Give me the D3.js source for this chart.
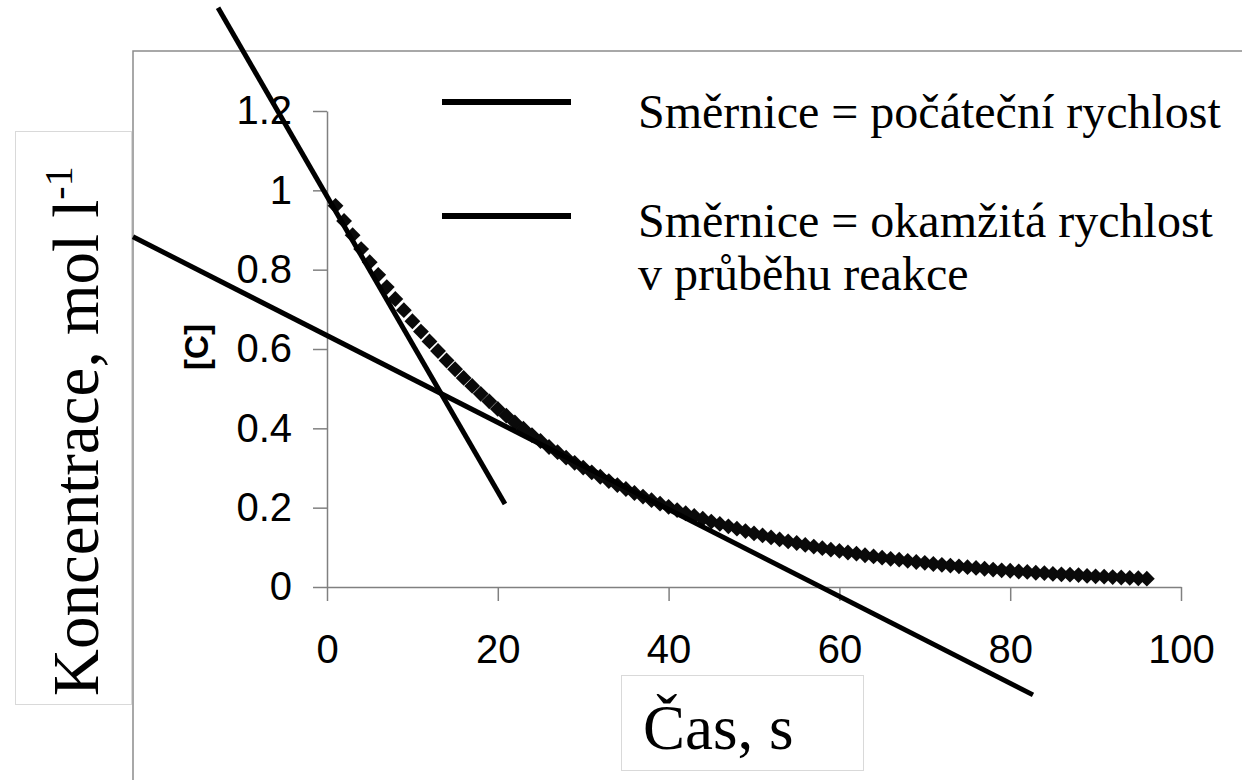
<!DOCTYPE html>
<html>
<head>
<meta charset="utf-8">
<script src="https://cdn.jsdelivr.net/npm/d3@7"></script>
<style>
  html, body { margin: 0; padding: 0; background: #fff; }
  svg { display: block; }
  .tick text { font-family: 'Liberation Sans', Arial, sans-serif; font-size: 40px; fill: #000; }
</style>
</head>
<body>
<svg id="SvgContainer"></svg>
<script>
// time, s
var times = [1, 2, 3, 4, 5, 6, 7, 8, 9, 10, 11, 12, 13, 14, 15, 16, 17, 18, 19, 20,
    21, 22, 23, 24, 25, 26, 27, 28, 29, 30, 31, 32, 33, 34, 35, 36, 37, 38, 39, 40,
    41, 42, 43, 44, 45, 46, 47, 48, 49, 50, 51, 52, 53, 54, 55, 56, 57, 58, 59, 60,
    61, 62, 63, 64, 65, 66, 67, 68, 69, 70, 71, 72, 73, 74, 75, 76, 77, 78, 79, 80,
    81, 82, 83, 84, 85, 86, 87, 88, 89, 90, 91, 92, 93, 94, 95, 96];

// [C], mol/l
var concentrations = [0.961, 0.923, 0.887, 0.852, 0.819, 0.787, 0.756, 0.726, 0.698, 0.670,
    0.644, 0.619, 0.595, 0.571, 0.549, 0.527, 0.507, 0.487, 0.468, 0.449,
    0.432, 0.415, 0.399, 0.383, 0.368, 0.353, 0.340, 0.326, 0.313, 0.301,
    0.289, 0.278, 0.267, 0.257, 0.247, 0.237, 0.228, 0.219, 0.210, 0.202,
    0.194, 0.186, 0.179, 0.172, 0.165, 0.159, 0.153, 0.147, 0.141, 0.135,
    0.130, 0.125, 0.120, 0.115, 0.111, 0.106, 0.102, 0.098, 0.094, 0.091,
    0.087, 0.084, 0.080, 0.077, 0.074, 0.071, 0.069, 0.066, 0.063, 0.061,
    0.058, 0.056, 0.054, 0.052, 0.050, 0.048, 0.046, 0.044, 0.042, 0.041,
    0.039, 0.038, 0.036, 0.035, 0.033, 0.032, 0.031, 0.030, 0.028, 0.027,
    0.026, 0.025, 0.024, 0.023, 0.022, 0.021];

// tangent lines, endpoints in data units [t, c]
var initialTangent = [[-12.76, 1.460], [20.84, 0.209]];
var laterTangent = [[-22.72, 0.883], [82.67, -0.272]];

var xTicks = [0, 20, 40, 60, 80, 100];
var yTicks = [0, 0.2, 0.4, 0.6, 0.8, 1, 1.2];
var yTickLabels = ["0", "0.2", "0.4", "0.6", "0.8", "1", "1.2"];

var legendLabels = [
    ["Směrnice = počáteční rychlost"],
    ["Směrnice = okamžitá rychlost", "v průběhu reakce"]
];

var serifFont = "'Liberation Serif', 'Times New Roman', Times, serif";

function DrawChart() {
    var width = 1242;
    var height = 780;
    var axisColor = "#808080";
    var lineThickness = 5;

    var svgContainer = d3.select("#SvgContainer")
        .attr("width", width)
        .attr("height", height);

    svgContainer.append("rect")
        .attr("width", width)
        .attr("height", height)
        .attr("fill", "#fff");

    var x = d3.scaleLinear().domain([0, 100]).range([327, 1181]);
    var y = d3.scaleLinear().domain([0, 1.2]).range([587, 111]);

    // outer chart frame (only top and left visible)
    svgContainer.append("path")
        .attr("d", "M133,780 V51 H1242")
        .attr("fill", "none")
        .attr("stroke", "#8c8c8c")
        .attr("stroke-width", 1.5);

    // y title box
    svgContainer.append("rect")
        .attr("x", 15.5).attr("y", 131.5)
        .attr("width", 116).attr("height", 573)
        .attr("fill", "#fff")
        .attr("stroke", "#d9d9d9")
        .attr("stroke-width", 1);

    var yTitle = svgContainer.append("text")
        .attr("transform", "translate(98,696) rotate(-90)")
        .style("font-family", serifFont)
        .style("font-size", "65px")
        .attr("fill", "#000");
    yTitle.append("tspan").text("Koncentrace, mol l");
    yTitle.append("tspan")
        .style("font-size", "40px")
        .attr("dy", -26)
        .text("-1");

    // x title box
    svgContainer.append("rect")
        .attr("x", 621.5).attr("y", 675.5)
        .attr("width", 242).attr("height", 95)
        .attr("fill", "#fff")
        .attr("stroke", "#d9d9d9")
        .attr("stroke-width", 1);

    svgContainer.append("text")
        .attr("x", 643)
        .attr("y", 749)
        .style("font-family", serifFont)
        .style("font-size", "63px")
        .attr("fill", "#000")
        .text("Čas, s");

    // axes
    var yAxis = d3.axisLeft(y)
        .tickValues(yTicks)
        .tickFormat(function (d, i) { return yTickLabels[i]; })
        .tickSize(14)
        .tickSizeOuter(0)
        .tickPadding(21);

    var xAxis = d3.axisBottom(x)
        .tickValues(xTicks)
        .tickFormat(function (d) { return d; })
        .tickSize(14)
        .tickSizeOuter(0)
        .tickPadding(34);

    var gy = svgContainer.append("g")
        .attr("transform", "translate(" + x(0) + ",0)")
        .call(yAxis);

    var gx = svgContainer.append("g")
        .attr("transform", "translate(0," + y(0) + ")")
        .call(xAxis);

    [gx, gy].forEach(function (g) {
        g.attr("font-family", null).attr("font-size", null);
        g.selectAll("path, line")
            .attr("stroke", axisColor)
            .attr("stroke-width", 1.5);
    });

    svgContainer.append("text")
        .attr("transform", "translate(208,347) rotate(-90)")
        .attr("text-anchor", "middle")
        .style("font-family", "'Liberation Sans', Arial, sans-serif")
        .style("font-weight", "bold")
        .style("font-size", "33px")
        .attr("fill", "#000")
        .text("[C]");

    // data markers (diamonds)
    var diamond = d3.symbol().type(d3.symbolSquare).size(125);
    svgContainer.selectAll(".DataPoint")
        .data(times)
        .enter()
        .append("path")
        .attr("class", "DataPoint")
        .attr("d", diamond)
        .attr("fill", "#0a0a0a")
        .attr("transform", function (d, i) {
            return "translate(" + x(d) + "," + y(concentrations[i]) + ") rotate(45)";
        });

    // tangents
    var line = d3.line()
        .x(function (d) { return x(d[0]); })
        .y(function (d) { return y(d[1]); });

    svgContainer.selectAll(".Tangent")
        .data([initialTangent, laterTangent])
        .enter()
        .append("path")
        .attr("class", "Tangent")
        .attr("d", line)
        .attr("fill", "none")
        .attr("stroke", "#000")
        .attr("stroke-width", lineThickness);

    // legend
    var legendLineY = [102, 216];
    var legendTextY = [128, 237];
    var legend = svgContainer.selectAll(".LegendGroup")
        .data(legendLabels)
        .enter()
        .append("g")
        .attr("class", "LegendGroup");

    legend.append("line")
        .attr("x1", 442)
        .attr("x2", 571)
        .attr("y1", function (d, i) { return legendLineY[i]; })
        .attr("y2", function (d, i) { return legendLineY[i]; })
        .attr("stroke", "#000")
        .attr("stroke-width", 6);

    legend.append("text")
        .style("font-family", serifFont)
        .style("font-size", "48px")
        .attr("fill", "#000")
        .attr("y", function (d, i) { return legendTextY[i]; })
        .selectAll("tspan")
        .data(function (d) { return d; })
        .enter()
        .append("tspan")
        .attr("x", 638)
        .attr("dy", function (d, i) { return i === 0 ? 0 : 53; })
        .text(function (d) { return d; });
}

DrawChart();
</script>
</body>
</html>
